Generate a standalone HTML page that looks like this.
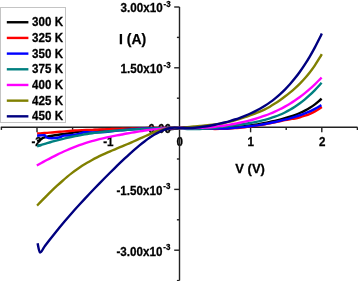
<!DOCTYPE html>
<html><head><meta charset="utf-8"><style>
html,body{margin:0;padding:0;background:#fff;}
body{width:358px;height:281px;overflow:hidden;}
svg{display:block;will-change:transform;}
text{font-family:"Liberation Sans",sans-serif;font-weight:bold;fill:#000;stroke:#000;stroke-width:0.25px;}
.lg{font-size:11.6px;}
.tk{font-size:11.2px;}
.sup{font-size:7px;}
.al{font-size:13px;}
</style></head><body>
<svg width="358" height="281" viewBox="0 0 358 281">
<rect x="0" y="0" width="358" height="281" fill="#fff"/>
<text transform="translate(120.60,12.10) scale(1,1.065)" style="font-size:11.65px">3.00x10<tspan style="font-size:8.0px" dx="0.9" dy="-5.0">-3</tspan></text><text transform="translate(120.60,72.90) scale(1,1.065)" style="font-size:11.65px">1.50x10<tspan style="font-size:8.0px" dx="0.9" dy="-5.0">-3</tspan></text><text transform="translate(148.30,132.50) scale(1,1.065)" style="font-size:11.65px">0.00</text><text transform="translate(116.50,194.80) scale(1,1.065)" style="font-size:11.65px">-1.50x10<tspan style="font-size:8.0px" dx="0.9" dy="-5.0">-3</tspan></text><text transform="translate(116.50,255.60) scale(1,1.065)" style="font-size:11.65px">-3.00x10<tspan style="font-size:8.0px" dx="0.9" dy="-5.0">-3</tspan></text><text transform="translate(31.50,145.80) scale(1,1.065)" style="font-size:11.65px">-2</text><text transform="translate(103.20,145.80) scale(1,1.065)" style="font-size:11.65px">-1</text><text transform="translate(176.50,145.80) scale(1,1.065)" style="font-size:11.65px">0</text><text transform="translate(247.50,145.80) scale(1,1.065)" style="font-size:11.65px">1</text><text transform="translate(319.00,145.80) scale(1,1.065)" style="font-size:11.65px">2</text><text transform="translate(119.00,44.30) scale(1,1.000)" style="font-size:14.00px">I (A)</text><text transform="translate(235.30,173.10) scale(1,1.030)" style="font-size:13.00px">V (V)</text>
<!-- axes -->
<g stroke="#222" stroke-width="1.4" fill="none">
<line x1="179.5" y1="7" x2="179.5" y2="280.5"/>
<line x1="0.8" y1="127.3" x2="357.5" y2="127.3"/>
<line x1="1.40" y1="127.30" x2="1.40" y2="129.90"/><line x1="37.00" y1="127.30" x2="37.00" y2="132.30"/><line x1="72.60" y1="127.30" x2="72.60" y2="129.90"/><line x1="108.20" y1="127.30" x2="108.20" y2="132.30"/><line x1="143.80" y1="127.30" x2="143.80" y2="129.90"/><line x1="215.00" y1="127.30" x2="215.00" y2="129.90"/><line x1="250.60" y1="127.30" x2="250.60" y2="132.30"/><line x1="286.20" y1="127.30" x2="286.20" y2="129.90"/><line x1="321.80" y1="127.30" x2="321.80" y2="132.30"/><line x1="357.40" y1="127.30" x2="357.40" y2="129.90"/><line x1="174.20" y1="7.00" x2="179.50" y2="7.00"/><line x1="176.90" y1="37.40" x2="179.50" y2="37.40"/><line x1="174.20" y1="67.80" x2="179.50" y2="67.80"/><line x1="176.90" y1="98.20" x2="179.50" y2="98.20"/><line x1="174.20" y1="128.60" x2="179.50" y2="128.60"/><line x1="176.90" y1="159.00" x2="179.50" y2="159.00"/><line x1="174.20" y1="189.40" x2="179.50" y2="189.40"/><line x1="176.90" y1="219.80" x2="179.50" y2="219.80"/><line x1="174.20" y1="250.20" x2="179.50" y2="250.20"/><line x1="176.90" y1="280.60" x2="179.50" y2="280.60"/>
</g>
<!-- legend -->
<rect x="0.5" y="7.5" width="65" height="115" fill="#fff" stroke="#c4c4c4" stroke-width="1"/>
<line x1="6.8" y1="22.25" x2="28.4" y2="22.25" stroke="#000000" stroke-width="2.4"/><text transform="translate(32.10,26.15) scale(1,1.140)" style="font-size:11.60px">300 K</text><line x1="6.8" y1="37.93" x2="28.4" y2="37.93" stroke="#ff0000" stroke-width="2.4"/><text transform="translate(32.10,41.83) scale(1,1.140)" style="font-size:11.60px">325 K</text><line x1="6.8" y1="53.61" x2="28.4" y2="53.61" stroke="#0000ff" stroke-width="2.4"/><text transform="translate(32.10,57.51) scale(1,1.140)" style="font-size:11.60px">350 K</text><line x1="6.8" y1="69.29" x2="28.4" y2="69.29" stroke="#008080" stroke-width="2.4"/><text transform="translate(32.10,73.19) scale(1,1.140)" style="font-size:11.60px">375 K</text><line x1="6.8" y1="84.97" x2="28.4" y2="84.97" stroke="#ff00ff" stroke-width="2.4"/><text transform="translate(32.10,88.87) scale(1,1.140)" style="font-size:11.60px">400 K</text><line x1="6.8" y1="100.65" x2="28.4" y2="100.65" stroke="#808000" stroke-width="2.4"/><text transform="translate(32.10,104.55) scale(1,1.140)" style="font-size:11.60px">425 K</text><line x1="6.8" y1="116.33" x2="28.4" y2="116.33" stroke="#000080" stroke-width="2.4"/><text transform="translate(32.10,120.23) scale(1,1.140)" style="font-size:11.60px">450 K</text>
<!-- curves -->
<g fill="none" stroke-width="2.4" stroke-linejoin="round" stroke-linecap="butt">
<path d="M37.30,141.50 C37.93,141.12 40.17,139.80 41.10,139.20 C42.03,138.60 41.87,138.33 42.90,137.90 C43.93,137.47 45.73,136.97 47.30,136.61 C48.87,136.26 50.63,136.02 52.30,135.74 C53.97,135.47 55.63,135.20 57.30,134.94 C58.97,134.68 60.63,134.44 62.30,134.19 C63.97,133.95 65.63,133.71 67.30,133.47 C68.97,133.24 70.63,133.05 72.30,132.79 C73.97,132.52 75.63,132.21 77.30,131.90 C78.97,131.60 80.63,131.21 82.30,130.95 C83.97,130.70 85.63,130.50 87.30,130.36 C88.97,130.23 90.63,130.20 92.30,130.14 C93.97,130.07 95.63,130.04 97.30,129.98 C98.97,129.91 100.63,129.81 102.30,129.74 C103.97,129.66 105.63,129.60 107.30,129.53 C108.97,129.47 110.63,129.42 112.30,129.36 C113.97,129.31 115.63,129.27 117.30,129.22 C118.97,129.18 120.63,129.15 122.30,129.11 C123.97,129.07 125.63,129.04 127.30,128.97 C128.97,128.91 130.63,128.81 132.30,128.74 C133.97,128.68 135.63,128.60 137.30,128.58 C138.97,128.55 140.63,128.55 142.30,128.59 C143.97,128.63 145.63,128.71 147.30,128.80 C148.97,128.88 150.63,129.00 152.30,129.08 C153.97,129.16 155.63,129.21 157.30,129.26 C158.97,129.30 160.63,129.34 162.30,129.35 C163.97,129.35 165.63,129.35 167.30,129.29 C168.97,129.24 170.63,129.16 172.30,129.02 C173.97,128.88 176.03,128.62 177.30,128.45 C178.57,128.28 178.63,128.11 179.90,128.00 C181.17,127.89 183.23,127.85 184.90,127.82 C186.57,127.79 188.23,127.80 189.90,127.82 C191.57,127.83 193.23,127.87 194.90,127.91 C196.57,127.95 198.23,128.00 199.90,128.04 C201.57,128.08 203.23,128.13 204.90,128.16 C206.57,128.19 208.23,128.22 209.90,128.23 C211.57,128.25 213.23,128.25 214.90,128.23 C216.57,128.22 218.23,128.19 219.90,128.14 C221.57,128.09 223.23,128.03 224.90,127.94 C226.57,127.86 228.23,127.76 229.90,127.64 C231.57,127.52 233.23,127.39 234.90,127.24 C236.57,127.08 238.23,126.92 239.90,126.73 C241.57,126.55 243.23,126.35 244.90,126.13 C246.57,125.92 248.23,125.69 249.90,125.44 C251.57,125.20 253.23,124.95 254.90,124.68 C256.57,124.41 258.23,124.13 259.90,123.83 C261.57,123.54 263.23,123.23 264.90,122.91 C266.57,122.59 268.23,122.26 269.90,121.91 C271.57,121.56 273.23,121.20 274.90,120.82 C276.57,120.43 278.23,120.04 279.90,119.61 C281.57,119.19 283.23,118.75 284.90,118.27 C286.57,117.80 288.23,117.30 289.90,116.76 C291.57,116.22 293.23,115.65 294.90,115.02 C296.57,114.39 298.23,113.73 299.90,113.00 C301.57,112.26 303.23,111.48 304.90,110.61 C306.57,109.74 308.23,108.81 309.90,107.77 C311.57,106.73 313.23,105.61 314.90,104.36 C316.57,103.11 318.78,101.20 319.90,100.26 C321.02,99.31 321.32,98.94 321.60,98.68" stroke="#000000"/>
<path d="M37.10,133.55 C37.93,133.50 40.43,133.35 42.10,133.23 C43.77,133.12 45.43,132.99 47.10,132.86 C48.77,132.73 50.43,132.59 52.10,132.46 C53.77,132.32 55.43,132.18 57.10,132.03 C58.77,131.89 60.43,131.75 62.10,131.61 C63.77,131.46 65.43,131.32 67.10,131.18 C68.77,131.04 70.43,130.90 72.10,130.77 C73.77,130.63 75.43,130.49 77.10,130.37 C78.77,130.26 80.43,130.16 82.10,130.09 C83.77,130.02 85.43,129.99 87.10,129.95 C88.77,129.91 90.43,129.89 92.10,129.84 C93.77,129.80 95.43,129.75 97.10,129.69 C98.77,129.62 100.43,129.52 102.10,129.45 C103.77,129.37 105.43,129.30 107.10,129.24 C108.77,129.18 110.43,129.12 112.10,129.07 C113.77,129.02 115.43,128.97 117.10,128.93 C118.77,128.89 120.43,128.86 122.10,128.82 C123.77,128.78 125.43,128.73 127.10,128.68 C128.77,128.63 130.43,128.56 132.10,128.50 C133.77,128.44 135.43,128.39 137.10,128.34 C138.77,128.29 140.43,128.24 142.10,128.19 C143.77,128.14 145.43,128.09 147.10,128.06 C148.77,128.02 150.43,128.00 152.10,127.98 C153.77,127.97 155.43,127.98 157.10,127.99 C158.77,127.99 160.43,127.99 162.10,127.99 C163.77,127.99 165.43,127.99 167.10,128.00 C168.77,128.00 170.43,128.00 172.10,128.00 C173.77,128.00 175.80,128.00 177.10,128.00 C178.40,128.00 178.60,128.05 179.90,128.00 C181.20,127.95 183.23,127.75 184.90,127.70 C186.57,127.65 188.23,127.66 189.90,127.69 C191.57,127.72 193.23,127.79 194.90,127.87 C196.57,127.94 198.23,127.98 199.90,128.13 C201.57,128.29 203.23,128.68 204.90,128.81 C206.57,128.94 208.23,128.88 209.90,128.90 C211.57,128.92 213.23,128.93 214.90,128.93 C216.57,128.92 218.23,128.91 219.90,128.87 C221.57,128.84 223.23,128.79 224.90,128.73 C226.57,128.67 228.23,128.59 229.90,128.49 C231.57,128.40 233.23,128.29 234.90,128.16 C236.57,128.04 238.23,127.89 239.90,127.73 C241.57,127.58 243.23,127.40 244.90,127.21 C246.57,127.03 248.23,126.82 249.90,126.60 C251.57,126.39 253.23,126.16 254.90,125.91 C256.57,125.67 258.23,125.41 259.90,125.14 C261.57,124.86 263.23,124.58 264.90,124.28 C266.57,123.98 268.23,123.67 269.90,123.34 C271.57,123.02 273.23,122.68 274.90,122.33 C276.57,121.97 278.23,121.59 279.90,121.22 C281.57,120.84 283.23,120.40 284.90,120.06 C286.57,119.73 288.23,119.47 289.90,119.21 C291.57,118.95 293.23,118.81 294.90,118.50 C296.57,118.18 298.23,117.77 299.90,117.31 C301.57,116.85 303.23,116.32 304.90,115.74 C306.57,115.15 308.23,114.53 309.90,113.80 C311.57,113.08 313.23,112.30 314.90,111.39 C316.57,110.48 318.75,109.09 319.90,108.36 C321.05,107.63 321.48,107.23 321.80,107.01" stroke="#ff0000"/>
<path d="M37.10,135.70 C38.37,135.62 43.13,134.90 44.70,135.20 C46.27,135.50 45.32,136.98 46.50,137.50 C47.68,138.02 49.73,138.30 51.80,138.30 C53.87,138.30 56.87,137.95 58.90,137.50 C60.93,137.05 62.00,135.97 64.00,135.60 C66.00,135.23 68.27,135.63 70.90,135.30 C73.53,134.97 77.58,134.12 79.80,133.60 C82.02,133.08 82.17,132.38 84.20,132.20 C86.23,132.02 88.53,132.57 92.00,132.54 C95.47,132.51 100.33,132.36 105.00,132.01 C109.67,131.66 112.50,131.06 120.00,130.42 C127.50,129.79 139.18,128.61 150.00,128.20 C160.82,127.79 178.25,128.01 184.90,127.99 C191.55,127.97 188.23,128.03 189.90,128.07 C191.57,128.11 193.23,128.16 194.90,128.21 C196.57,128.26 198.23,128.32 199.90,128.37 C201.57,128.42 203.23,128.47 204.90,128.51 C206.57,128.55 208.23,128.58 209.90,128.60 C211.57,128.62 213.23,128.63 214.90,128.63 C216.57,128.62 218.23,128.61 219.90,128.57 C221.57,128.54 223.23,128.49 224.90,128.43 C226.57,128.37 228.23,128.29 229.90,128.19 C231.57,128.10 233.23,127.99 234.90,127.86 C236.57,127.74 238.23,127.59 239.90,127.43 C241.57,127.28 243.23,127.10 244.90,126.91 C246.57,126.73 248.23,126.52 249.90,126.30 C251.57,126.09 253.23,125.86 254.90,125.61 C256.57,125.37 258.23,125.11 259.90,124.84 C261.57,124.56 263.23,124.28 264.90,123.98 C266.57,123.68 268.23,123.37 269.90,123.04 C271.57,122.72 273.23,122.38 274.90,122.03 C276.57,121.67 278.23,121.30 279.90,120.92 C281.57,120.53 283.23,120.13 284.90,119.70 C286.57,119.28 288.23,118.84 289.90,118.37 C291.57,117.91 293.23,117.42 294.90,116.90 C296.57,116.38 298.23,115.84 299.90,115.25 C301.57,114.67 303.23,114.06 304.90,113.40 C306.57,112.74 308.23,112.04 309.90,111.29 C311.57,110.53 313.23,109.73 314.90,108.86 C316.57,107.99 318.82,106.68 319.90,106.05 C320.98,105.43 321.15,105.28 321.40,105.13" stroke="#0000ff"/>
<path d="M37.10,146.23 C37.93,145.97 40.43,145.18 42.10,144.67 C43.77,144.16 45.43,143.65 47.10,143.16 C48.77,142.67 50.43,142.19 52.10,141.72 C53.77,141.25 55.43,140.80 57.10,140.35 C58.77,139.91 60.43,139.49 62.10,139.07 C63.77,138.66 65.43,138.26 67.10,137.88 C68.77,137.50 70.43,137.13 72.10,136.78 C73.77,136.43 75.43,136.10 77.10,135.78 C78.77,135.46 80.43,135.15 82.10,134.86 C83.77,134.57 85.43,134.29 87.10,134.03 C88.77,133.77 90.43,133.52 92.10,133.29 C93.77,133.05 95.43,132.83 97.10,132.62 C98.77,132.41 100.43,132.21 102.10,132.02 C103.77,131.83 105.43,131.65 107.10,131.49 C108.77,131.32 110.43,131.16 112.10,131.01 C113.77,130.86 115.43,130.72 117.10,130.58 C118.77,130.45 120.43,130.32 122.10,130.20 C123.77,130.08 125.43,129.96 127.10,129.85 C128.77,129.74 130.43,129.63 132.10,129.53 C133.77,129.43 135.43,129.34 137.10,129.24 C138.77,129.15 140.43,129.06 142.10,128.98 C143.77,128.89 145.43,128.81 147.10,128.73 C148.77,128.66 150.43,128.58 152.10,128.51 C153.77,128.44 155.43,128.38 157.10,128.32 C158.77,128.26 160.43,128.20 162.10,128.16 C163.77,128.11 165.43,128.07 167.10,128.03 C168.77,128.00 170.43,127.98 172.10,127.97 C173.77,127.95 175.80,127.96 177.10,127.96 C178.40,127.97 178.60,127.87 179.90,128.00 C181.20,128.13 183.23,128.56 184.90,128.74 C186.57,128.93 188.23,129.03 189.90,129.10 C191.57,129.17 193.23,129.18 194.90,129.16 C196.57,129.14 198.23,129.08 199.90,128.99 C201.57,128.91 203.23,128.79 204.90,128.66 C206.57,128.53 208.23,128.38 209.90,128.22 C211.57,128.06 213.23,127.88 214.90,127.70 C216.57,127.52 218.23,127.33 219.90,127.14 C221.57,126.95 223.23,126.75 224.90,126.55 C226.57,126.35 228.23,126.14 229.90,125.93 C231.57,125.72 233.23,125.51 234.90,125.28 C236.57,125.06 238.23,124.84 239.90,124.60 C241.57,124.36 243.23,124.12 244.90,123.86 C246.57,123.61 248.23,123.34 249.90,123.05 C251.57,122.76 253.23,122.46 254.90,122.13 C256.57,121.80 258.23,121.45 259.90,121.07 C261.57,120.69 263.23,120.29 264.90,119.84 C266.57,119.40 268.23,118.93 269.90,118.41 C271.57,117.88 273.23,117.33 274.90,116.72 C276.57,116.11 278.23,115.46 279.90,114.75 C281.57,114.04 283.23,113.28 284.90,112.45 C286.57,111.63 288.23,110.75 289.90,109.80 C291.57,108.85 293.23,107.83 294.90,106.75 C296.57,105.66 298.23,104.51 299.90,103.28 C301.57,102.04 303.23,100.74 304.90,99.36 C306.57,97.97 308.23,96.51 309.90,94.97 C311.57,93.42 313.23,91.80 314.90,90.10 C316.57,88.39 318.78,85.96 319.90,84.74 C321.02,83.53 321.32,83.13 321.60,82.81" stroke="#008080"/>
<path d="M36.80,165.45 C37.63,164.99 40.13,163.61 41.80,162.70 C43.47,161.80 45.13,160.89 46.80,160.01 C48.47,159.12 50.13,158.24 51.80,157.39 C53.47,156.53 55.13,155.69 56.80,154.87 C58.47,154.05 60.13,153.25 61.80,152.48 C63.47,151.70 65.13,150.95 66.80,150.23 C68.47,149.50 70.13,148.80 71.80,148.12 C73.47,147.44 75.13,146.79 76.80,146.16 C78.47,145.54 80.13,144.94 81.80,144.36 C83.47,143.79 85.13,143.23 86.80,142.71 C88.47,142.18 90.13,141.68 91.80,141.20 C93.47,140.71 95.13,140.26 96.80,139.82 C98.47,139.38 100.13,138.96 101.80,138.56 C103.47,138.16 105.13,137.79 106.80,137.42 C108.47,137.06 110.13,136.71 111.80,136.38 C113.47,136.05 115.13,135.74 116.80,135.42 C118.47,135.11 120.13,134.81 121.80,134.50 C123.47,134.18 125.13,133.85 126.80,133.55 C128.47,133.24 130.13,132.94 131.80,132.66 C133.47,132.37 135.13,132.09 136.80,131.81 C138.47,131.54 140.13,131.27 141.80,131.01 C143.47,130.75 145.13,130.49 146.80,130.26 C148.47,130.02 150.13,129.80 151.80,129.60 C153.47,129.40 155.13,129.24 156.80,129.08 C158.47,128.92 160.13,128.77 161.80,128.63 C163.47,128.49 165.13,128.37 166.80,128.27 C168.47,128.16 170.13,128.07 171.80,128.01 C173.47,127.95 175.45,127.92 176.80,127.91 C178.15,127.89 178.55,127.89 179.90,127.93 C181.25,127.96 183.23,128.09 184.90,128.13 C186.57,128.17 188.23,128.18 189.90,128.17 C191.57,128.17 193.23,128.14 194.90,128.09 C196.57,128.05 198.23,127.98 199.90,127.90 C201.57,127.82 203.23,127.72 204.90,127.61 C206.57,127.49 208.23,127.36 209.90,127.21 C211.57,127.06 213.23,126.90 214.90,126.72 C216.57,126.54 218.23,126.34 219.90,126.13 C221.57,125.92 223.23,125.69 224.90,125.45 C226.57,125.20 228.23,124.94 229.90,124.67 C231.57,124.39 233.23,124.09 234.90,123.78 C236.57,123.46 238.23,123.13 239.90,122.78 C241.57,122.42 243.23,122.05 244.90,121.65 C246.57,121.26 248.23,120.84 249.90,120.40 C251.57,119.96 253.23,119.49 254.90,119.00 C256.57,118.50 258.23,117.98 259.90,117.43 C261.57,116.88 263.23,116.31 264.90,115.70 C266.57,115.08 268.23,114.44 269.90,113.76 C271.57,113.09 273.23,112.37 274.90,111.62 C276.57,110.87 278.23,110.08 279.90,109.25 C281.57,108.42 283.23,107.54 284.90,106.62 C286.57,105.70 288.23,104.74 289.90,103.73 C291.57,102.71 293.23,101.65 294.90,100.53 C296.57,99.42 298.23,98.25 299.90,97.02 C301.57,95.79 303.23,94.51 304.90,93.17 C306.57,91.82 308.23,90.42 309.90,88.95 C311.57,87.48 313.23,85.94 314.90,84.34 C316.57,82.73 318.78,80.45 319.90,79.31 C321.02,78.17 321.32,77.80 321.60,77.50" stroke="#ff00ff"/>
<path d="M37.10,205.55 C37.93,204.69 40.43,202.08 42.10,200.38 C43.77,198.68 45.43,197.01 47.10,195.35 C48.77,193.69 50.43,192.04 52.10,190.44 C53.77,188.84 55.43,187.28 57.10,185.74 C58.77,184.21 60.43,182.70 62.10,181.23 C63.77,179.75 65.43,178.29 67.10,176.90 C68.77,175.51 70.43,174.17 72.10,172.89 C73.77,171.61 75.43,170.39 77.10,169.21 C78.77,168.04 80.43,166.92 82.10,165.84 C83.77,164.77 85.43,163.75 87.10,162.77 C88.77,161.79 90.43,160.86 92.10,159.96 C93.77,159.05 95.43,158.20 97.10,157.37 C98.77,156.53 100.43,155.74 102.10,154.96 C103.77,154.18 105.43,153.43 107.10,152.69 C108.77,151.95 110.43,151.24 112.10,150.52 C113.77,149.81 115.43,149.11 117.10,148.41 C118.77,147.71 120.43,147.02 122.10,146.33 C123.77,145.63 125.43,144.95 127.10,144.24 C128.77,143.54 130.43,142.82 132.10,142.09 C133.77,141.35 135.43,140.59 137.10,139.84 C138.77,139.09 140.43,138.34 142.10,137.59 C143.77,136.85 145.43,136.10 147.10,135.37 C148.77,134.64 150.43,133.92 152.10,133.23 C153.77,132.54 155.43,131.86 157.10,131.25 C158.77,130.64 160.43,130.05 162.10,129.57 C163.77,129.09 165.43,128.67 167.10,128.35 C168.77,128.04 170.43,127.78 172.10,127.67 C173.77,127.57 175.80,127.64 177.10,127.72 C178.40,127.79 178.60,128.19 179.90,128.14 C181.20,128.08 183.23,127.60 184.90,127.38 C186.57,127.16 188.23,126.98 189.90,126.82 C191.57,126.65 193.23,126.52 194.90,126.38 C196.57,126.24 198.23,126.11 199.90,125.98 C201.57,125.84 203.23,125.71 204.90,125.55 C206.57,125.40 208.23,125.24 209.90,125.05 C211.57,124.86 213.23,124.66 214.90,124.43 C216.57,124.20 218.23,123.95 219.90,123.66 C221.57,123.38 223.23,123.07 224.90,122.73 C226.57,122.39 228.23,122.02 229.90,121.62 C231.57,121.22 233.23,120.79 234.90,120.32 C236.57,119.86 238.23,119.37 239.90,118.84 C241.57,118.31 243.23,117.74 244.90,117.16 C246.57,116.59 248.23,115.99 249.90,115.39 C251.57,114.78 253.23,114.20 254.90,113.56 C256.57,112.92 258.23,112.24 259.90,111.54 C261.57,110.83 263.23,110.12 264.90,109.32 C266.57,108.51 268.23,107.66 269.90,106.71 C271.57,105.76 273.23,104.68 274.90,103.59 C276.57,102.51 278.23,101.39 279.90,100.21 C281.57,99.04 283.23,97.81 284.90,96.53 C286.57,95.26 288.23,93.95 289.90,92.58 C291.57,91.22 293.23,89.85 294.90,88.35 C296.57,86.86 298.23,85.30 299.90,83.62 C301.57,81.94 303.23,80.18 304.90,78.28 C306.57,76.38 308.23,74.39 309.90,72.23 C311.57,70.06 313.23,67.79 314.90,65.31 C316.57,62.84 318.75,59.26 319.90,57.38 C321.05,55.51 321.48,54.62 321.80,54.06" stroke="#808000"/>
<path d="M37.60,243.30 C38.02,244.83 38.95,251.95 40.10,252.50 C41.25,253.05 42.93,248.71 44.50,246.63 C46.07,244.55 47.83,242.20 49.50,240.04 C51.17,237.89 52.83,235.77 54.50,233.68 C56.17,231.59 57.83,229.54 59.50,227.51 C61.17,225.49 62.83,223.50 64.50,221.53 C66.17,219.56 67.83,217.63 69.50,215.72 C71.17,213.80 72.83,211.92 74.50,210.05 C76.17,208.18 77.83,206.34 79.50,204.52 C81.17,202.69 82.83,200.88 84.50,199.09 C86.17,197.30 87.83,195.53 89.50,193.77 C91.17,192.01 92.83,190.26 94.50,188.53 C96.17,186.80 97.83,185.07 99.50,183.37 C101.17,181.66 102.83,179.96 104.50,178.27 C106.17,176.59 107.83,174.91 109.50,173.25 C111.17,171.59 112.83,169.94 114.50,168.31 C116.17,166.67 117.83,165.05 119.50,163.45 C121.17,161.85 122.83,160.26 124.50,158.70 C126.17,157.14 127.83,155.59 129.50,154.08 C131.17,152.57 132.83,151.08 134.50,149.63 C136.17,148.18 137.83,146.76 139.50,145.39 C141.17,144.02 142.83,142.69 144.50,141.42 C146.17,140.15 147.83,138.92 149.50,137.78 C151.17,136.63 152.83,135.54 154.50,134.54 C156.17,133.55 157.83,132.61 159.50,131.80 C161.17,130.99 162.83,130.25 164.50,129.66 C166.17,129.06 167.83,128.56 169.50,128.22 C171.17,127.88 172.83,127.66 174.50,127.63 C176.17,127.59 178.60,127.94 179.50,128.02 C180.40,128.09 179.00,128.09 179.90,128.09 C180.80,128.10 183.23,128.05 184.90,128.03 C186.57,128.01 188.23,128.04 189.90,127.98 C191.57,127.93 193.23,127.83 194.90,127.70 C196.57,127.57 198.23,127.40 199.90,127.21 C201.57,127.02 203.23,126.80 204.90,126.55 C206.57,126.30 208.23,126.02 209.90,125.73 C211.57,125.43 213.23,125.11 214.90,124.76 C216.57,124.42 218.23,124.05 219.90,123.66 C221.57,123.27 223.23,122.86 224.90,122.42 C226.57,121.98 228.23,121.53 229.90,121.04 C231.57,120.55 233.23,120.04 234.90,119.50 C236.57,118.96 238.23,118.39 239.90,117.79 C241.57,117.19 243.23,116.56 244.90,115.89 C246.57,115.21 248.23,114.51 249.90,113.76 C251.57,113.01 253.23,112.22 254.90,111.38 C256.57,110.54 258.23,109.66 259.90,108.71 C261.57,107.77 263.23,106.78 264.90,105.72 C266.57,104.66 268.23,103.55 269.90,102.36 C271.57,101.17 273.23,99.92 274.90,98.58 C276.57,97.25 278.23,95.85 279.90,94.35 C281.57,92.85 283.23,91.28 284.90,89.60 C286.57,87.93 288.23,86.16 289.90,84.29 C291.57,82.42 293.23,80.45 294.90,78.37 C296.57,76.28 298.23,74.09 299.90,71.77 C301.57,69.45 303.23,67.02 304.90,64.45 C306.57,61.88 308.23,59.19 309.90,56.35 C311.57,53.50 313.23,50.53 314.90,47.40 C316.57,44.27 318.75,39.87 319.90,37.57 C321.05,35.26 321.48,34.25 321.80,33.58" stroke="#000080"/>
</g>
</svg>
</body></html>
